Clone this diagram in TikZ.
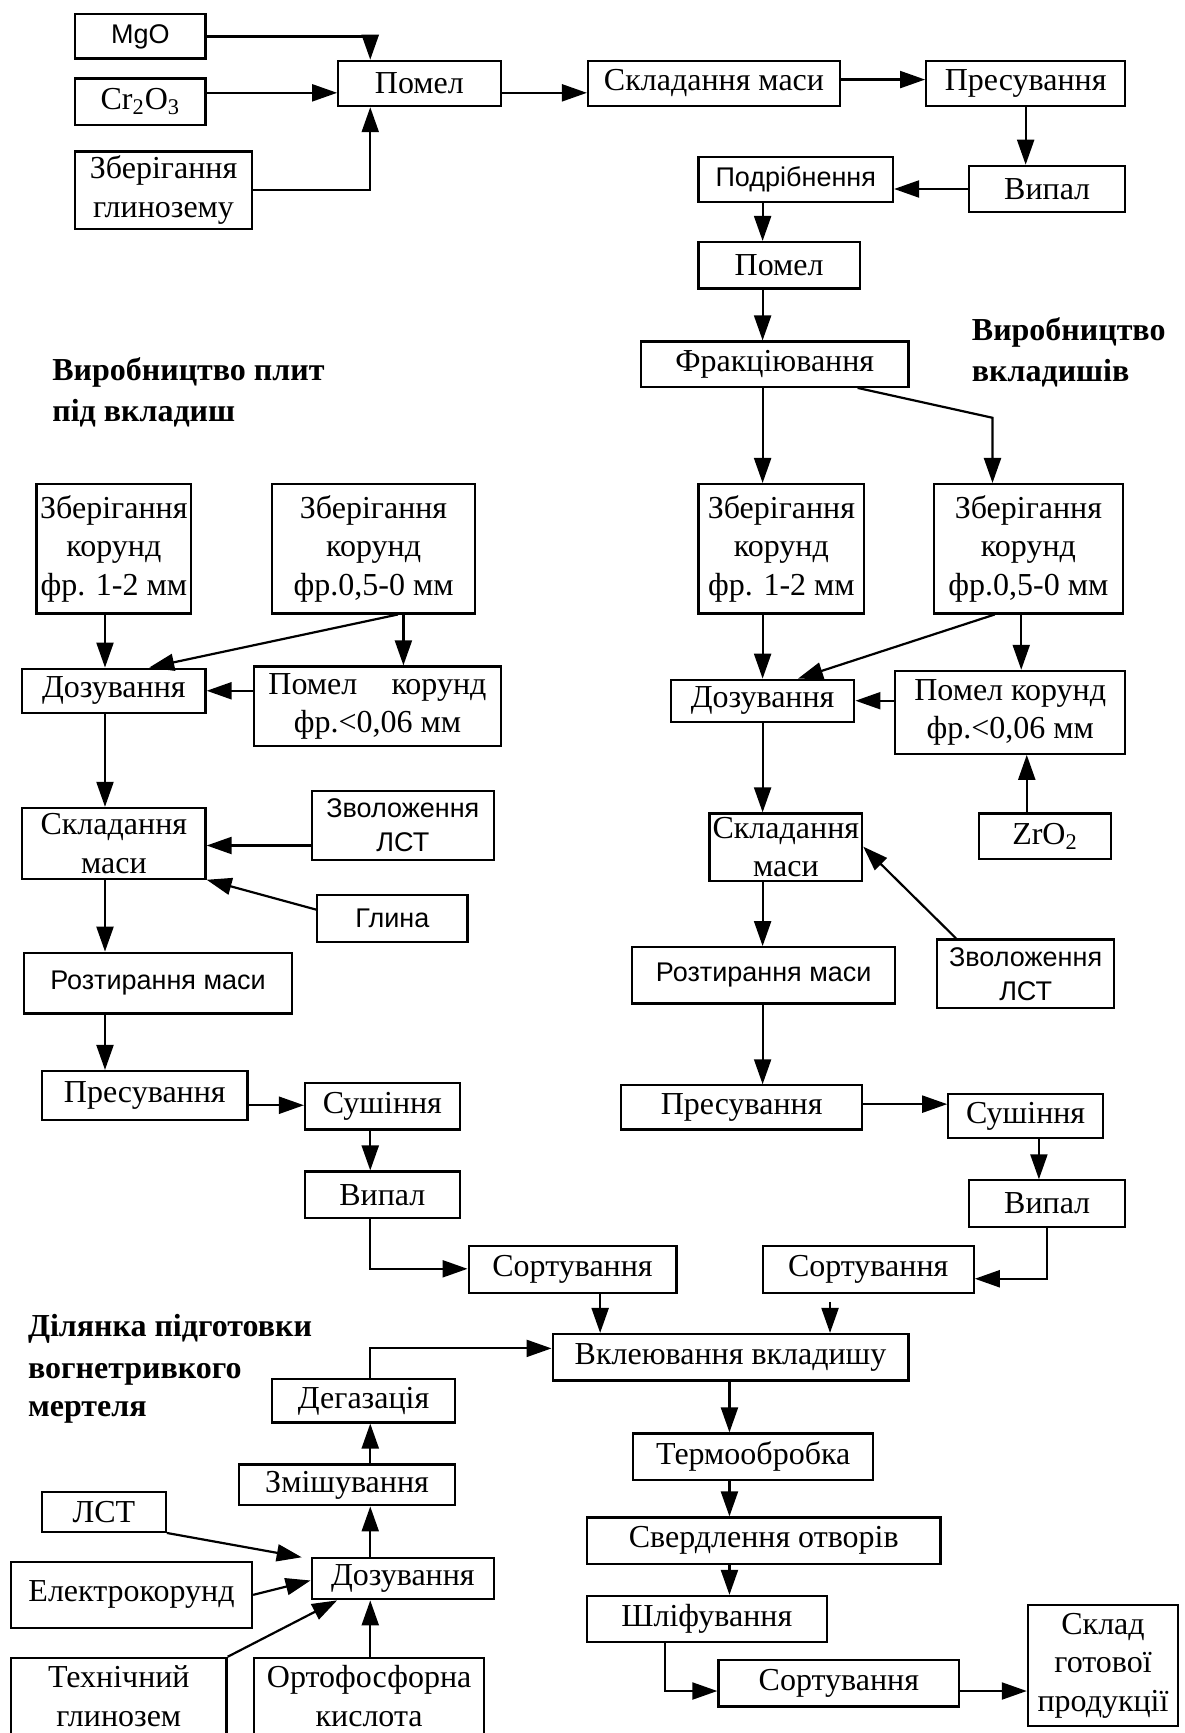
\documentclass[tikz,border=0pt]{standalone}
\usepackage{fontspec}
\setmainfont{Liberation Serif}
\setsansfont{Liberation Sans}
\usetikzlibrary{arrows.meta}
\newcommand\bx[7]{\node[#2, minimum width={(#5-#3)*0.5527pt}, minimum height={(#6-#4)*0.5527pt}] (#1) at ({(#3+#5)/2},{(#4+#6)/2}) {#7};}
\begin{document}
\begin{tikzpicture}[x=0.5527pt,y=-0.5527pt,
 box/.style={draw,line width=1.1pt,inner sep=0pt,align=center,font=\fontsize{16}{19.3}\selectfont},
 sbox/.style={box,font=\sffamily\fontsize{13.5}{17}\selectfont},
 head/.style={font=\bfseries\fontsize{16}{20}\selectfont,anchor=base west,inner sep=0pt},
 arr/.style={line width=1.1pt,-{Triangle[length=12.5pt,width=8.5pt]}},
 ln/.style={line width=1.1pt}]
\useasboundingbox (0,0) rectangle (1072,1568);
\fill[white] (0,0) rectangle (1072,1568);
\clip (0,0) rectangle (1072,1568);
% top
\bx{mgo}{sbox}{68}{13}{186}{53}{MgO}
\bx{cr}{box}{68}{71}{186}{113}{Cr\textsubscript{2}O\textsubscript{3}}
\bx{zg}{box}{68}{137}{228}{207}{Зберігання\\глинозему}
\bx{pm1}{box}{306}{55}{453}{96}{Помел}
\bx{skl1}{box}{532}{55}{760}{96}{Складання маси}
\bx{pres1}{box}{838}{55}{1018}{96}{Пресування}
\bx{vyp1}{box}{877}{150}{1018}{192}{Випал}
\bx{podr}{sbox}{632}{142}{808}{183}{Подрібнення}
\bx{pm2}{box}{632}{219}{778}{261}{Помел}
\bx{frak}{box}{580}{309}{822}{350}{Фракціювання}
% headings
\node[head] (h1a) at (47,344) {Виробництво плит};
\node[head] (h1b) at (47,381) {під вкладиш};
\node[head] (h2a) at (879,308) {Виробництво};
\node[head] (h2b) at (879,345) {вкладишів};
\node[head] (h3a) at (25,1209) {Ділянка підготовки};
\node[head] (h3b) at (25,1247) {вогнетривкого};
\node[head] (h3c) at (25,1282) {мертеля};
% left middle
\bx{zk1}{box}{33}{438}{173}{555}{Зберігання\\корунд\\фр. 1-2 мм}
\bx{zk2}{box}{246}{438}{430}{555}{Зберігання\\корунд\\фр.0,5-0 мм}
\bx{doz1}{box}{20}{605}{186}{645}{Дозування}
\bx{pk1}{box}{230}{603}{453}{675}{\makebox[109pt]{Помел\hfill корунд}\\фр.<0,06 мм}
\bx{skl2}{box}{20}{731}{186}{795}{Складання\\маси}
\bx{zv1}{sbox}{282}{716}{447}{778}{Зволоження\\ЛСТ}
\bx{glyna}{sbox}{287}{810}{423}{852}{Глина}
\bx{roz1}{sbox}{22}{862}{264}{917}{Розтирання маси}
\bx{pres2}{box}{38}{969}{224}{1013}{Пресування}
\bx{sush1}{box}{276}{980}{416}{1022}{Сушіння}
\bx{vyp2}{box}{276}{1060}{416}{1102}{Випал}
\bx{sort1}{box}{424}{1127}{612}{1170}{Сортування}
% right middle
\bx{zk3}{box}{632}{438}{782}{555}{Зберігання\\корунд\\фр. 1-2 мм}
\bx{zk4}{box}{845}{438}{1016}{555}{Зберігання\\корунд\\фр.0,5-0 мм}
\bx{doz2}{box}{607}{615}{773}{653}{Дозування}
\bx{pk2}{box}{810}{607}{1018}{682}{Помел корунд\\фр.<0,06 мм}
\bx{zr}{box}{886}{736}{1005}{777}{ZrO\textsubscript{2}}
\bx{skl3}{box}{642}{736}{780}{797}{Складання\\маси}
\bx{zv2}{sbox}{848}{850}{1008}{912}{Зволоження\\ЛСТ}
\bx{roz2}{sbox}{572}{857}{810}{908}{Розтирання маси}
\bx{pres3}{box}{562}{982}{780}{1022}{Пресування}
\bx{sush2}{box}{858}{990}{998}{1030}{Сушіння}
\bx{vyp3}{box}{877}{1068}{1018}{1110}{Випал}
\bx{sort2}{box}{690}{1127}{881}{1170}{Сортування}
% bottom
\bx{vkl}{box}{500}{1207}{822}{1249}{Вклеювання вкладишу}
\bx{term}{box}{573}{1297}{790}{1339}{Термообробка}
\bx{sverd}{box}{531}{1373}{851}{1415}{Свердлення отворів}
\bx{shlif}{box}{531}{1444}{748}{1486}{Шліфування}
\bx{sort3}{box}{650}{1502}{868}{1544}{Сортування}
\bx{sklad}{box}{930}{1452}{1066}{1562}{Склад\\готової\\продукції}
\bx{deg}{box}{246}{1248}{412}{1287}{Дегазація}
\bx{zmish}{box}{216}{1325}{412}{1362}{Змішування}
\bx{doz3}{box}{282}{1410}{447}{1447}{Дозування}
\bx{lst}{box}{38}{1350}{150}{1386}{ЛСТ}
\bx{elk}{box}{10}{1413}{228}{1473}{Електрокорунд}
\bx{tg}{box}{10}{1500}{205}{1569}{Технічний\\глинозем}
\bx{orto}{box}{230}{1500}{438}{1569}{Ортофосфорна\\кислота}
\coordinate (fb) at (898,378);
\coordinate (s2o) at (751,1178);
\coordinate (lstend) at (273,1409);
% connectors top
\draw[arr] (mgo.east) -| (335,0 |- pm1.north);
\draw[arr] (cr.east |- 0,84) -- (pm1.west |- 0,84);
\draw[arr] (zg.east) -| (335,0 |- pm1.south);
\draw[arr] (pm1.east |- 0,84) -- (skl1.west |- 0,84);
\draw[arr] (skl1.east |- 0,72) -- (pres1.west |- 0,72);
\draw[arr] (928,0 |- pres1.south) -- (928,0 |- vyp1.north);
\draw[arr] (vyp1.west |- 0,171) -- (podr.east |- 0,171);
\draw[arr] (690,0 |- podr.south) -- (690,0 |- pm2.north);
\draw[arr] (690,0 |- pm2.south) -- (690,0 |- frak.north);
\draw[arr] (690,0 |- frak.south) -- (690,0 |- zk3.north);
\draw[arr] (776,0 |- frak.south) -- (fb) -- (fb |- zk4.north);
% right middle
\draw[arr] (690,0 |- zk3.south) -- (690,0 |- doz2.north);
\draw[arr] (900,0 |- zk4.south) -- (722,0 |- doz2.north);
\draw[arr] (924,0 |- zk4.south) -- (924,0 |- pk2.north);
\draw[arr] (pk2.west |- 0,634) -- (doz2.east |- 0,634);
\draw[arr] (929,0 |- zr.north) -- (929,0 |- pk2.south);
\draw[arr] (690,0 |- doz2.south) -- (690,0 |- skl3.north);
\draw[arr] (865,0 |- zv2.north) -- (skl3.east |- 0,766);
\draw[arr] (690,0 |- skl3.south) -- (690,0 |- roz2.north);
\draw[arr] (690,0 |- roz2.south) -- (690,0 |- pres3.north);
\draw[arr] (pres3.east |- 0,999) -- (sush2.west |- 0,999);
\draw[arr] (940,0 |- sush2.south) -- (940,0 |- vyp3.north);
\draw[arr] (947,0 |- vyp3.south) |- (sort2.east |- 0,1157);
\draw[arr] (s2o) -- (s2o |- vkl.north);
% left middle
\draw[arr] (95,0 |- zk1.south) -- (95,0 |- doz1.north);
\draw[arr] (360,0 |- zk2.south) -- (135,0 |- doz1.north);
\draw[arr] (365,0 |- zk2.south) -- (365,0 |- pk1.north);
\draw[arr] (pk1.west |- 0,625) -- (doz1.east |- 0,625);
\draw[arr] (95,0 |- doz1.south) -- (95,0 |- skl2.north);
\draw[arr] (zv1.west |- 0,765) -- (skl2.east |- 0,765);
\draw[arr] (glyna.west |- 0,823) -- (skl2.south east);
\draw[arr] (95,0 |- skl2.south) -- (95,0 |- roz1.north);
\draw[arr] (95,0 |- roz1.south) -- (95,0 |- pres2.north);
\draw[arr] (pres2.east |- 0,1000) -- (sush1.west |- 0,1000);
\draw[arr] (335,0 |- sush1.south) -- (335,0 |- vyp2.north);
\draw[arr] (335,0 |- vyp2.south) |- (sort1.west |- 0,1148);
\draw[arr] (543,0 |- sort1.south) -- (543,0 |- vkl.north);
% bottom
\draw[arr] (335,0 |- deg.north) |- (vkl.west |- 0,1220);
\draw[arr] (335,0 |- zmish.north) -- (335,0 |- deg.south);
\draw[arr] (335,0 |- doz3.north) -- (335,0 |- zmish.south);
\draw[arr] (lst.south east) -- (lstend);
\draw[arr] (elk.east |- 0,1443) -- (doz3.west |- 0,1430);
\draw[arr] (tg.north east) -- (305,0 |- doz3.south);
\draw[arr] (335,0 |- orto.north) -- (335,0 |- doz3.south);
\draw[arr] (660,0 |- vkl.south) -- (660,0 |- term.north);
\draw[arr] (660,0 |- term.south) -- (660,0 |- sverd.north);
\draw[arr] (660,0 |- sverd.south) -- (660,0 |- shlif.north);
\draw[arr] (602,0 |- shlif.south) |- (sort3.west |- 0,1530);
\draw[arr] (sort3.east |- 0,1530) -- (sklad.west |- 0,1530);
\end{tikzpicture}
\end{document}
